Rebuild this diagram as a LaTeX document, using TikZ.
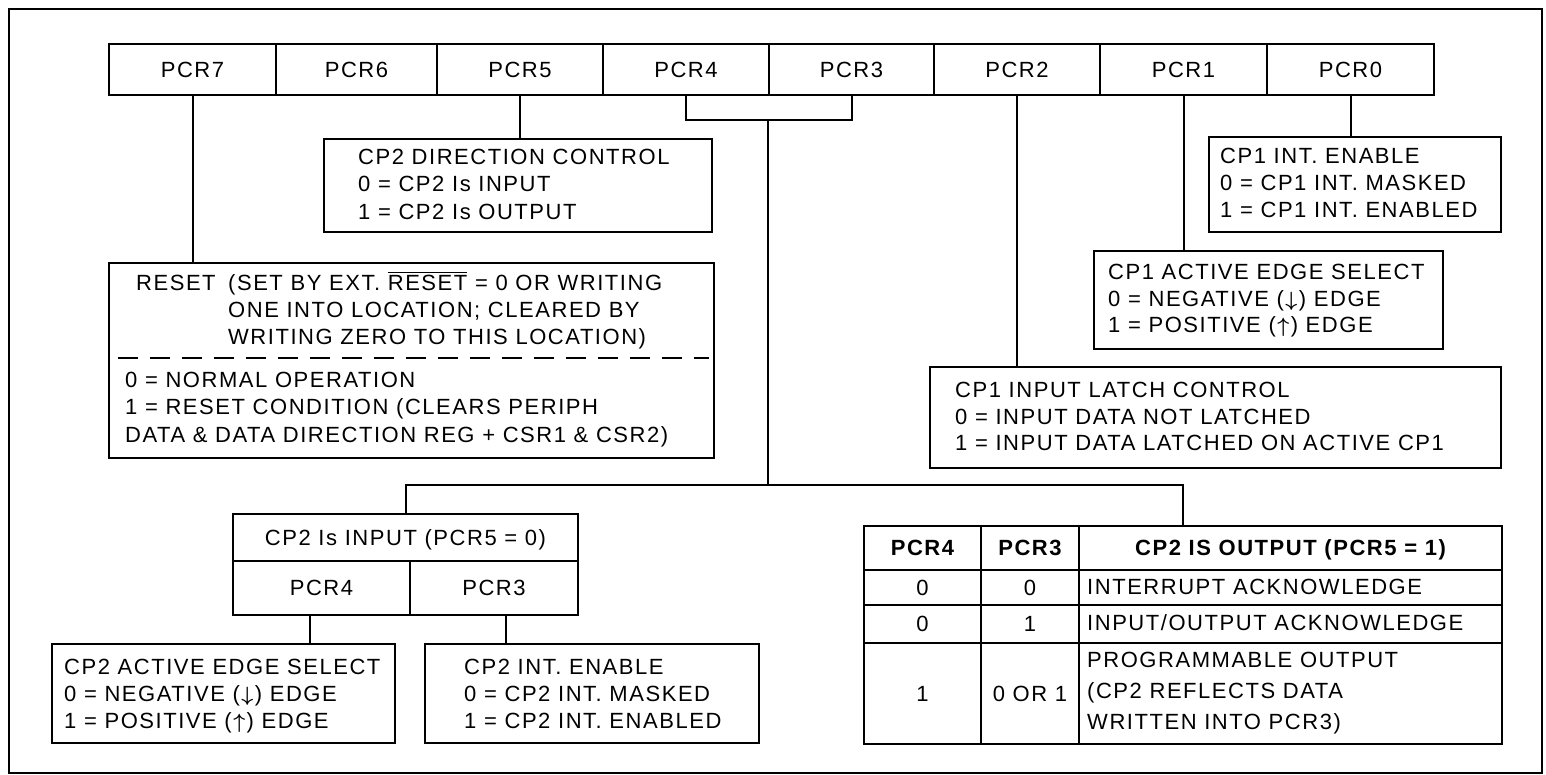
\documentclass[tikz,border=0pt]{standalone}
\usepackage{fontspec}
\setmainfont{Liberation Sans}[LetterSpace=7]
\newcommand\dgfont{\fontsize{22pt}{27pt}\selectfont}
\newcommand\dnarr{\kern1.5pt\raisebox{0.5pt}{$\boldsymbol{\downarrow}$}\kern1.5pt}
\newcommand\uparr{\kern1.5pt\raisebox{0.5pt}{$\boldsymbol{\uparrow}$}\kern1.5pt}
\usepackage{amsmath}
\tikzset{
  wire/.style={line width=2pt},
  box/.style={draw, line width=2pt, inner sep=0pt, anchor=north west, font=\dgfont, text height=15.7pt, text depth=0pt},
  txt/.style={inner sep=0pt, anchor=west, font=\dgfont, text height=15.7pt, text depth=0pt},
  ctxt/.style={inner sep=0pt, anchor=center, font=\dgfont, text height=15.7pt, text depth=0pt},
}
\begin{document}
\begin{tikzpicture}[x=1pt,y=-1pt]
\useasboundingbox (0,0) rectangle (1546,775);
% outer frame
\node[box, minimum width=1533pt, minimum height=764pt] (frame) at (8,8) {};
% register row
\foreach \n/\a/\b in {7/108/275, 6/275/436, 5/436/602, 4/602/768, 3/768/933, 2/933/1099, 1/1099/1266, 0/1266/1433}{
  \node[box, minimum width={\b-\a}, minimum height=51pt] (r\n) at (\a,43) {PCR\n};
}
% boxes
\node[box, minimum width=388pt, minimum height=93pt]  (dir)   at (323,138) {};
\node[box, minimum width=605pt, minimum height=195pt] (rst)   at (108,262) {};
\node[box, minimum width=292pt, minimum height=95pt]  (int1)  at (1208,136) {};
\node[box, minimum width=349pt, minimum height=98pt]  (edge1) at (1093,250) {};
\node[box, minimum width=571pt, minimum height=101pt] (latch) at (929,366) {};
\node[box, minimum width=345pt, minimum height=101pt] (inp)   at (232,513) {};
\node[box, minimum width=345pt, minimum height=47pt]  (inph)  at (232,513) {CP2 Is INPUT (PCR5 = 0)};
\node[box, minimum width=177pt, minimum height=54pt]  (i4)    at (232,560) {PCR4};
\node[box, minimum width=168pt, minimum height=54pt]  (i3)    at (409,560) {PCR3};
\node[box, minimum width=343pt, minimum height=99pt]  (edge2) at (51,643) {};
\node[box, minimum width=334pt, minimum height=99pt]  (int2)  at (424,643) {};
% table
\node[box, minimum width=638pt, minimum height=218pt] (tab) at (863,525) {};
\foreach \ya/\yb/\rn in {525/569/h, 569/604/a, 604/642/b, 642/743/c}{
  \foreach \xa/\xb/\cn in {863/980/x, 980/1078/y, 1078/1501/z}{
    \node[box, minimum width={\xb-\xa}, minimum height={\yb-\ya}] (t\rn\cn) at (\xa,\ya) {};
  }
}
\node[ctxt, font=\dgfont\bfseries] (th1) at (thx) {PCR4};
\node[ctxt, font=\dgfont\bfseries] (th2) at (thy) {PCR3};
\node[ctxt, font=\dgfont\bfseries] (th3) at (thz) {CP2 IS OUTPUT (PCR5 = 1)};
\node[ctxt] (ta1) at (tax) {0};
\node[ctxt] (ta2) at (tay) {0};
\node[txt] (ta3) at (1087,587) {INTERRUPT ACKNOWLEDGE};
\node[ctxt] (tb1) at (tbx) {0};
\node[ctxt] (tb2) at (tby) {1};
\node[txt] (tb3) at (1087,623) {INPUT/OUTPUT ACKNOWLEDGE};
\node[ctxt] (tc1) at (tcx) {1};
\node[ctxt] (tc2) at (tcy) {0 OR 1};
\node[txt] (tc3) at (1087,660) {PROGRAMMABLE OUTPUT};
\node[txt] (tc4) at (1087,691) {(CP2 REFLECTS DATA};
\node[txt] (tc5) at (1087,722) {WRITTEN INTO PCR3)};
% box texts
\node[txt] (dir1) at (358,157) {CP2 DIRECTION CONTROL};
\node[txt] (dir2) at (358,184) {0 = CP2 Is INPUT};
\node[txt] (dir3) at (358,212) {1 = CP2 Is OUTPUT};
\node[txt] (rs0) at (136,283) {RESET};
\node[txt] (rs1) at (228,283) {(SET BY EXT. $\overline{\mbox{RESET}}$ = 0 OR WRITING};
\node[txt] (rs2) at (228,310) {ONE INTO LOCATION; CLEARED BY};
\node[txt] (rs3) at (228,337) {WRITING ZERO TO THIS LOCATION)};
\draw[wire, dash pattern=on 20pt off 12pt] ([shift={(10,96)}]rst.north west) -- ([shift={(-6,96)}]rst.north east);
\node[txt] (rs4) at (125,380) {0 = NORMAL OPERATION};
\node[txt] (rs5) at (125,407) {1 = RESET CONDITION (CLEARS PERIPH};
\node[txt] (rs6) at (125,435) {DATA \& DATA DIRECTION REG + CSR1 \& CSR2)};
\node[txt] (in1) at (1220,156) {CP1 INT. ENABLE};
\node[txt] (in2) at (1220,183) {0 = CP1 INT. MASKED};
\node[txt] (in3) at (1220,210) {1 = CP1 INT. ENABLED};
\node[txt] (ed1) at (1108,272) {CP1 ACTIVE EDGE SELECT};
\node[txt] (ed2) at (1108,299) {0 = NEGATIVE (\dnarr) EDGE};
\node[txt] (ed3) at (1108,325) {1 = POSITIVE (\uparr) EDGE};
\node[txt] (la1) at (955,390) {CP1 INPUT LATCH CONTROL};
\node[txt] (la2) at (955,417) {0 = INPUT DATA NOT LATCHED};
\node[txt] (la3) at (955,443) {1 = INPUT DATA LATCHED ON ACTIVE CP1};
\node[txt] (ee1) at (64,667) {CP2 ACTIVE EDGE SELECT};
\node[txt] (ee2) at (64,694) {0 = NEGATIVE (\dnarr) EDGE};
\node[txt] (ee3) at (64,721) {1 = POSITIVE (\uparr) EDGE};
\node[txt] (ie1) at (464,667) {CP2 INT. ENABLE};
\node[txt] (ie2) at (464,694) {0 = CP2 INT. MASKED};
\node[txt] (ie3) at (464,721) {1 = CP2 INT. ENABLED};
% connectors
\coordinate (bj) at (768,120);
\coordinate (br) at (768,485);
\coordinate (s4) at (310,614);
\coordinate (s3) at (506,614);
\draw[wire] (r7.south) -- (rst.north -| r7.south);
\draw[wire] (r5.south) -- (dir.north -| r5.south);
\draw[wire] (r4.south) |- (bj) -| (r3.south);
\draw[wire] (bj) -- (br);
\draw[wire] (inp.north) |- (br) -| (tab.north);
\draw[wire] (r2.south) -- (latch.north -| r2.south);
\draw[wire] (r1.south) -- (edge1.north -| r1.south);
\draw[wire] (r0.south) -- (int1.north -| r0.south);
\draw[wire] (s4) -- (edge2.north -| s4);
\draw[wire] (s3) -- (int2.north -| s3);
\end{tikzpicture}
\end{document}
